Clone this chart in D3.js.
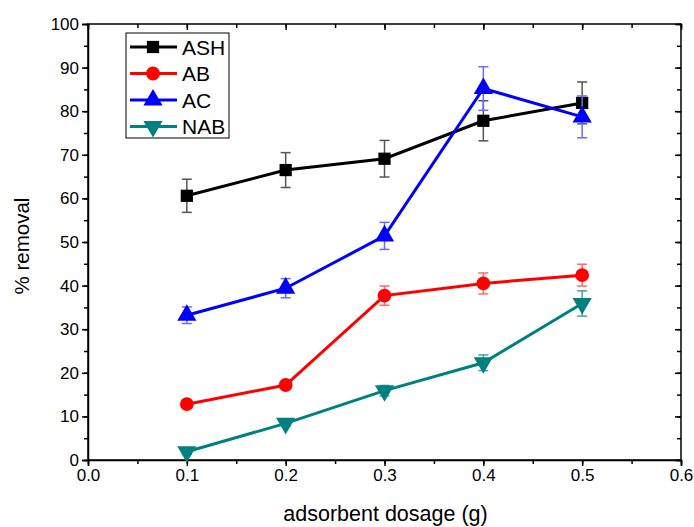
<!DOCTYPE html>
<html><head><meta charset="utf-8">
<script src="https://cdn.jsdelivr.net/npm/d3@7"></script>
<style>body{margin:0;background:#fff}svg{display:block}text{font-family:"Liberation Sans",Arial,sans-serif}</style>
</head><body><svg id="c" width="694" height="527"></svg>
<script>
const dosage = [0.1, 0.2, 0.3, 0.4, 0.5];
const seriesNames = ["ASH", "AB", "AC", "NAB"];
const ASH = [60.6, 66.5, 69.1, 77.8, 81.9];
const ASH_err = [3.8, 4.0, 4.2, 4.6, 4.8];
const AB = [12.8, 17.2, 37.7, 40.5, 42.4];
const AB_err = [0.6, 0.6, 2.2, 2.4, 2.5];
const AC = [33.2, 39.4, 51.4, 85.2, 78.7];
const AC_err = [1.9, 2.2, 3.1, 5.0, 4.8];
const NAB = [1.9, 8.4, 15.9, 22.3, 35.9];
const NAB_err = [0.6, 0.6, 1.2, 1.8, 2.9];
const xTicks = [0.0, 0.1, 0.2, 0.3, 0.4, 0.5, 0.6];
const yTicks = [0, 10, 20, 30, 40, 50, 60, 70, 80, 90, 100];
const colors = ["#000000", "#ff0000", "#0000ff", "#008080"];
const errColors = ["#555555", "#ff6a6a", "#6a6aff", "#4aa0a0"];
const symbols = [d3.symbolSquare, d3.symbolCircle, d3.symbolTriangle, "down"];

const data = [ASH, AB, AC, NAB];
const errs = [ASH_err, AB_err, AC_err, NAB_err];

const svg = d3.select("#c");
const L = 88, R = 681, T = 24, B = 460;
const x = d3.scaleLinear().domain([0, 0.6]).range([L, R]);
const y = d3.scaleLinear().domain([0, 100]).range([B, T]);

svg.append("rect").attr("x", L).attr("y", T).attr("width", R - L).attr("height", B - T)
  .attr("fill", "none").attr("stroke", "#000").attr("stroke-width", 1.5);

const xMinor = d3.range(0, 0.6001, 0.05);
const yMinor = d3.range(0, 100.01, 5);

svg.append("g").attr("transform", `translate(0,${B})`)
  .call(d3.axisBottom(x).tickValues(xTicks).tickFormat(d3.format(".1f")).tickSize(6).tickPadding(3));
svg.append("g").attr("transform", `translate(0,${B})`)
  .call(d3.axisBottom(x).tickValues(xMinor).tickFormat("").tickSize(4)).select(".domain").remove();
svg.append("g").attr("transform", `translate(${L},0)`)
  .call(d3.axisLeft(y).tickValues(yTicks).tickSize(6).tickPadding(3));
svg.append("g").attr("transform", `translate(${L},0)`)
  .call(d3.axisLeft(y).tickValues(yMinor).tickFormat("").tickSize(4)).select(".domain").remove();
svg.append("g").attr("transform", `translate(0,${T})`)
  .call(d3.axisBottom(x).tickValues(xTicks).tickFormat("").tickSize(6)).select(".domain").remove();
svg.append("g").attr("transform", `translate(0,${T})`)
  .call(d3.axisBottom(x).tickValues(xMinor).tickFormat("").tickSize(4)).select(".domain").remove();
svg.append("g").attr("transform", `translate(${R},0)`)
  .call(d3.axisRight(y).tickValues(yTicks).tickFormat("").tickSize(-6)).select(".domain").remove();
svg.append("g").attr("transform", `translate(${R},0)`)
  .call(d3.axisRight(y).tickValues(yMinor).tickFormat("").tickSize(-4)).select(".domain").remove();

svg.selectAll(".domain").attr("stroke-width", 1.5);
svg.selectAll(".tick line").attr("stroke-width", 1.5);
svg.selectAll(".tick text").attr("font-size", 17).attr("fill", "#000").style("font-family", '"Liberation Sans",Arial,sans-serif');

svg.append("text").attr("x", (L + R) / 2 + 1).attr("y", 521).attr("text-anchor", "middle")
  .attr("font-size", 21.5).text("adsorbent dosage (g)");
svg.append("text").attr("transform", `translate(29,${(T + B) / 2 + 4}) rotate(-90)`).attr("text-anchor", "middle")
  .attr("font-size", 20.5).text("% removal");

function sym(i, size) {
  if (symbols[i] === "down") return d3.symbol().type(d3.symbolTriangle).size(size)();
  return d3.symbol().type(symbols[i]).size(size)();
}
const sizes = [150, 150, 160, 160];

const plot = svg.append("g");
data.forEach((vals, i) => {
  const g = plot.append("g");
  vals.forEach((v, j) => {
    const e = errs[i][j], cx = x(dosage[j]);
    const eg = g.append("g").attr("stroke", errColors[i]).attr("stroke-width", 1.5);
    eg.append("line").attr("x1", cx).attr("x2", cx).attr("y1", y(v + e)).attr("y2", y(v - e));
    eg.append("line").attr("x1", cx - 5).attr("x2", cx + 5).attr("y1", y(v + e)).attr("y2", y(v + e));
    eg.append("line").attr("x1", cx - 5).attr("x2", cx + 5).attr("y1", y(v - e)).attr("y2", y(v - e));
  });
  g.append("path").datum(vals)
    .attr("d", d3.line().x((d, j) => x(dosage[j])).y(d => y(d)))
    .attr("fill", "none").attr("stroke", colors[i]).attr("stroke-width", 3);
  g.selectAll("path.m").data(vals).enter().append("path")
    .attr("d", sym(i, sizes[i]))
    .attr("transform", (d, j) => `translate(${x(dosage[j])},${y(d)})` + (symbols[i] === "down" ? " rotate(180)" : ""))
    .attr("fill", colors[i]);
});

const lg = svg.append("g");
lg.append("rect").attr("x", 126).attr("y", 33).attr("width", 103).attr("height", 105)
  .attr("fill", "#fff").attr("stroke", "#000").attr("stroke-width", 1);
seriesNames.forEach((n, i) => {
  const yy = 47 + i * 26.5;
  lg.append("line").attr("x1", 130).attr("x2", 177).attr("y1", yy).attr("y2", yy)
    .attr("stroke", colors[i]).attr("stroke-width", 3);
  lg.append("path").attr("d", sym(i, sizes[i]))
    .attr("transform", `translate(153,${yy})` + (symbols[i] === "down" ? " rotate(180)" : ""))
    .attr("fill", colors[i]);
  lg.append("text").attr("x", 182).attr("y", yy + 7.5).attr("font-size", 21).text(n);
});
</script></body></html>
